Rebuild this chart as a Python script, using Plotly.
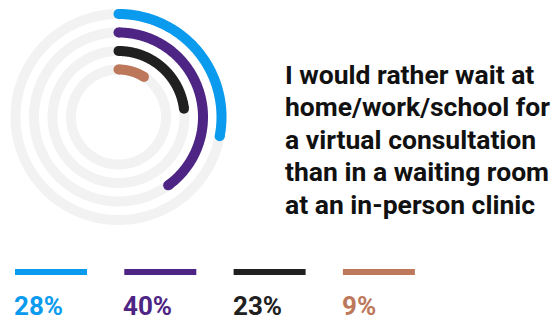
import plotly.graph_objects as go

labels = ["28%", "40%", "23%", "9%"]
values = [28, 40, 23, 9]
colors = ["#0A9BEE", "#4E2584", "#202020", "#BD785C"]
ring_radius = [103, 84.5, 66, 47.5]
title_lines = ["I would rather wait at", "home/work/school for", "a virtual consultation",
               "than in a waiting room", "at an in-person clinic"]

W, H = 557, 322
cx, cy, R = 118.5, 117, 113
LW = 10
N = 181

fig = go.Figure()
for r in ring_radius:
    fig.add_trace(go.Scatterpolar(
        r=[r] * 361, theta=list(range(361)), mode="lines",
        line=dict(color="#F2F2F2", width=LW), hoverinfo="skip", showlegend=False))
for v, c, r in zip(values, colors, ring_radius):
    end = v / 100 * 360
    th = [end * i / (N - 1) for i in range(N)]
    fig.add_trace(go.Scatterpolar(
        r=[r] * N, theta=th, mode="lines",
        line=dict(color=c, width=LW), showlegend=False))
    fig.add_trace(go.Scatterpolar(
        r=[r, r], theta=[0, end], mode="markers",
        marker=dict(color=c, size=LW, line=dict(width=0)), showlegend=False))

fig.update_layout(
    width=W, height=H, margin=dict(l=0, r=0, t=0, b=0),
    paper_bgcolor="white", plot_bgcolor="white",
    font=dict(family="Roboto"),
    polar=dict(
        domain=dict(x=[(cx - R) / W, (cx + R) / W], y=[(H - cy - R) / H, (H - cy + R) / H]),
        bgcolor="white",
        radialaxis=dict(visible=False, range=[0, R]),
        angularaxis=dict(visible=False, rotation=90, direction="clockwise"),
    ),
)

x0, step, bw = 15, 109.3, 72
for i, (lab, c) in enumerate(zip(labels, colors)):
    xl = x0 + i * step
    fig.add_shape(type="rect", xref="paper", yref="paper",
                  x0=xl / W, x1=(xl + bw) / W, y0=(H - 275) / H, y1=(H - 269) / H,
                  fillcolor=c, line=dict(width=0))
    fig.add_annotation(x=(xl - 2) / W, y=0, xref="paper", yref="paper",
                       xanchor="left", yanchor="bottom", showarrow=False, borderpad=0,
                       text="<b>%s</b>" % lab, font=dict(family="Roboto", size=26, color=c))

for i, line in enumerate(title_lines):
    fig.add_annotation(x=283 / W, y=(H - (74 + 32.5 * i)) / H, xref="paper", yref="paper",
                       xanchor="left", yanchor="middle", align="left", showarrow=False,
                       text="<b>%s</b>" % line,
                       font=dict(family="Roboto", size=26.5, color="#111111"))

fig.write_html("out.html")
